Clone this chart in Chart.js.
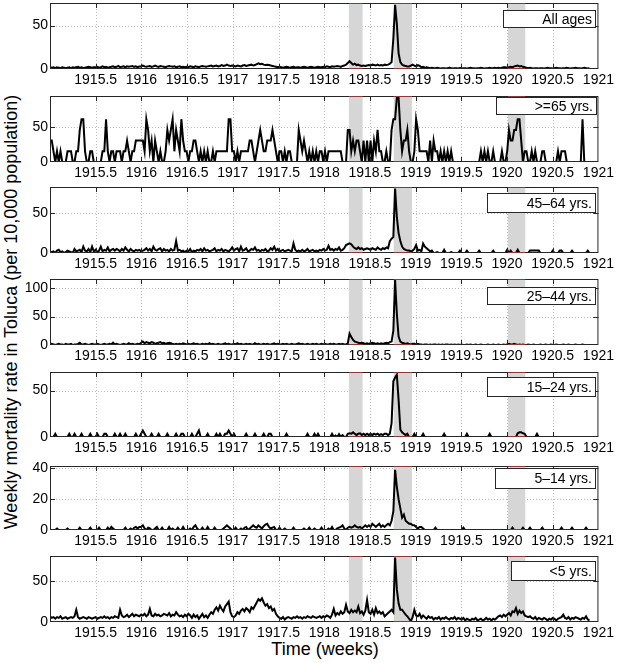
<!DOCTYPE html>
<html>
<head>
<meta charset="utf-8">
<script src="https://cdn.jsdelivr.net/npm/chart.js@4.4.1/dist/chart.umd.min.js"></script>
<style>
html,body{margin:0;padding:0;background:#fff;}
#wrap{position:relative;width:617px;height:663px;overflow:hidden;font-family:"Liberation Sans",Arial,Helvetica,sans-serif;color:#000;}
#wrap canvas{position:absolute;left:0;}
.ytitle{position:absolute;left:11px;top:312px;transform:translate(-50%,-50%) rotate(-90deg);font-size:18px;white-space:nowrap;}
.xtitle{position:absolute;left:325px;top:649px;transform:translate(-50%,-50%);font-size:18px;white-space:nowrap;}
</style>
</head>
<body>
<div id="wrap">
  <div class="ytitle">Weekly mortality rate in Toluca (per 10,000 population)</div>
  <div class="xtitle">Time (weeks)</div>
</div>
<script>
// ---------------- data ----------------
const startYear = 1915;
const weeksPerYear = 52.18;
const xTicks = [1915, 1915.5, 1916, 1916.5, 1917, 1917.5, 1918, 1918.5, 1919, 1919.5, 1920, 1920.5, 1921];
const xTickLabels = ['', '1915.5', '1916', '1916.5', '1917', '1917.5', '1918', '1918.5', '1919', '1919.5', '1920', '1920.5', '1921'];
const shadeStart = [1918.27, 1918.76, 1920.01];
const shadeEnd = [1918.42, 1918.96, 1920.20];
const panelLabels = ['All ages', '>=65 yrs.', '45\u201364 yrs.', '25\u201344 yrs.', '15\u201324 yrs.', '5\u201314 yrs.', '<5 yrs.'];
const yTicks = [[0, 50], [0, 50], [0, 50], [0, 50, 100], [0, 50], [0, 20, 40], [0, 50]];
const yMax = [76, 95, 83, 116, 70, 41.5, 81];

const allAges = [
2,1.5,2,1,2,1.5,1,2,1.5,1,1.5,2,1,2,1.5,2,2.5,1.5,2,1,1.5,2,2.5,2,1.5,2,
2,2.5,1.5,2,3,2,2.5,1.5,2,2.5,3,2,2.5,3.5,2,2.5,3,2,3,2.5,3,3.5,2.5,3,2,3,
3,4,3,2.5,3,3.5,2.5,3,4,3,2.5,3.5,3,2.5,2,3,3.5,3,2.5,3,2,2.5,3,2,2.5,2,
2.5,2,3,2.5,2,3,2.5,2,3,3.5,3,2.5,3,3.5,4,3,3.5,4,3,3.5,4.5,3.5,4,5,4,3.5,
4,3.5,3,4,3.5,3,4,4.5,3.5,4,4.5,5,4,4.5,5.5,6.5,5.5,6,5,4.5,5,4.5,4,3.5,3,2.5,
2,2.5,2,1.5,2,2.5,2,1.5,2,2.5,1.5,2,2,1.5,2,2.5,2,1.5,2,2.5,2,1.5,2,2.5,2,2,
2.5,2,3,2.5,2,3,2.5,3,3.5,3,2.5,3.5,4,5,7,9,7,5,6,4.5,5,4,3.5,4,3.5,4,
4.5,4,5,4.5,4,5,4,4.5,4,5,4.5,5,6,8,35,74,52,18,8,5,4,3.5,3,3,4,5,
4,3,4.5,3.5,2,2.5,1.5,2,1.5,1,1.5,1,1,1.5,1,0.5,1,1,0.5,1,1.5,1,0.5,1,1,0.5,
1,0.5,1,1,0.5,1,1.5,1,1,0.5,1,1,1.5,1,0.5,1,1,1.5,1,1,1.5,1,1.5,1,1.5,2,
2,1.5,2,2.5,2,3,3.5,4,3,3.5,2.5,2,1.5,1,1.5,1,0.5,1,1,0.5,1,1,0.5,1,1.5,1,
1,0.5,1,1.5,1,1,0.5,1,1,1.5,1,0.5,1,1,1.5,1,1,0.5,1,1.5,1,0.5,1
];
const age65plus = [
30.8,30.8,15.4,0,15.4,0,15.4,0,0,0,15.4,15.4,15.4,0,0,15.4,15.4,46.2,61.6,61.6,15.4,0,0,15.4,15.4,0,
0,0,0,0,15.4,15.4,61.6,15.4,0,15.4,15.4,0,15.4,15.4,15.4,0,15.4,15.4,30.8,15.4,0,15.4,15.4,30.8,30.8,30.8,
30.8,30.8,15.4,61.6,46.2,15.4,30.8,0,30.8,15.4,0,15.4,0,0,15.4,46.2,30.8,46.2,61.6,15.4,46.2,30.8,15.4,61.6,30.8,15.4,
15.4,0,15.4,15.4,30.8,30.8,15.4,0,15.4,0,15.4,0,15.4,0,0,15.4,0,15.4,15.4,15.4,15.4,15.4,15.4,15.4,61.6,61.6,
15.4,15.4,0,15.4,0,15.4,15.4,15.4,15.4,15.4,30.8,30.8,15.4,0,15.4,30.8,46.2,30.8,15.4,15.4,30.8,30.8,30.8,46.2,30.8,15.4,
0,15.4,15.4,0,15.4,0,15.4,15.4,0,0,0,0,46.2,30.8,15.4,30.8,15.4,0,15.4,0,15.4,0,15.4,0,15.4,15.4,
0,15.4,0,15.4,15.4,15.4,15.4,15.4,15.4,15.4,15.4,0,0,0,46.2,46.2,15.4,30.8,15.4,30.8,30.8,15.4,0,30.8,0,30.8,
0,30.8,0,30.8,15.4,46.2,15.4,15.4,0,0,15.4,0,0,46.2,61.6,61.6,92.4,92.4,46.2,15.4,30.8,30.8,46.2,15.4,0,0,
15.4,61.6,46.2,15.4,15.4,15.4,15.4,15.4,0,30.8,0,30.8,15.4,15.4,0,15.4,0,15.4,0,15.4,0,15.4,0,0,0,0,
0,0,0,0,0,0,0,0,0,0,0,0,15.4,0,15.4,0,15.4,0,0,15.4,0,0,0,0,15.4,0,
0,15.4,46.2,30.8,30.8,46.2,46.2,61.6,61.6,30.8,0,15.4,15.4,0,0,15.4,0,15.4,0,0,0,15.4,15.4,0,0,0,
0,0,0,0,15.4,0,15.4,15.4,15.4,0,0,0,0,0,0,0,0,0,61.6,0,0,0,0
];
const age45to64 = [
2,1,2,0,3,4,1,2,0,1,3,2,1,0,5,2,3,4,1,8,3,2,5,1,8,2,
4,1,3,8,2,4,3,7,2,4,5,3,5,4,2,5,3,7,4,2,5,3,2,4,3,4,
2,3,4,6,3,5,2,8,4,3,5,6,2,5,3,4,2,5,3,4,15,3,4,2,3,1,
3,2,5,1,3,2,4,3,5,2,6,3,4,2,3,4,6,2,4,3,5,2,4,3,2,4,
7,3,5,6,2,8,3,4,6,2,3,5,4,7,3,4,2,4,3,5,2,3,6,4,8,3,
5,2,3,4,2,3,4,3,2,12,4,2,3,2,4,2,3,5,2,3,4,2,3,2,4,3,
5,3,4,9,4,5,3,5,4,7,3,4,6,10,11,12,11,8,6,5,7,5,6,4,5,6,
5,4,6,5,4,7,5,4,6,5,7,6,15,18,20,81,45,25,15,8,5,4,3,3,2,3,
5,10,3,4,2,12,8,6,4,2,3,0,0,1,0,0,0,4,0,0,0,1,0,0,0,0,
3,0,0,0,3,0,0,0,0,0,0,3,0,0,0,0,0,0,0,3,0,0,0,0,0,0,
0,4,0,3,0,0,0,4,0,0,0,0,0,0,3,3,3,3,3,3,0,0,0,0,0,0,
0,3,0,0,0,3,3,0,0,0,0,0,3,0,0,0,0,0,0,0,0,3,0
];
const age25to44 = [
1,2,1,0,1,2,1,1,0,2,1,1,2,0,1,1,2,4,1,1,2,1,0,1,2,1,
1,2,1,0,1,2,1,1,2,1,4,1,2,1,0,1,2,1,1,3,1,2,1,1,2,1,
4,6,3,5,4,3,5,4,2,3,4,5,3,4,2,3,4,3,2,1,2,1,2,1,3,2,
1,2,1,2,3,1,2,1,1,2,1,2,1,3,1,2,1,1,2,1,1,2,3,1,2,1,
1,2,1,3,1,2,1,1,2,1,2,1,1,3,1,2,1,1,2,1,2,1,1,2,3,1,
2,1,1,2,1,2,1,1,2,1,1,2,3,1,2,1,1,2,1,1,2,1,2,1,1,2,
1,2,1,1,2,1,2,1,1,2,1,2,1,1,3,20,14,9,6,5,4,3,4,3,2,3,
2,3,4,3,2,3,2,3,2,3,4,3,5,6,25,114,55,15,6,4,3,2,3,2,1,2,
2,1,2,1,1,0,1,1,0,1,0,1,1,0,1,0,1,0,1,1,0,1,0,1,0,1,
0,1,0,0,1,0,1,0,0,1,0,0,1,0,0,0,1,0,0,1,0,0,1,0,0,1,
0,1,2,1,1,2,1,0,1,0,1,0,0,1,0,0,1,0,0,0,1,0,0,1,0,0,
1,0,0,1,0,0,0,1,0,0,1,0,0,0,1,0,0,0,1,0,0,0,0
];
const age15to24 = [
0,0,0,3.5,0,0,0,0,0,0,0,3.5,0,0,3.5,0,0,0,3.5,0,0,0,0,3.5,0,0,
0,3.5,0,0,0,3.5,3.5,0,0,0,0,3.5,0,0,3.5,0,0,3.5,0,0,0,0,0,3.5,0,0,
3.5,7,3.5,0,0,0,3.5,0,0,0,3.5,0,0,0,0,3.5,0,0,0,0,3.5,0,0,3.5,3.5,0,
0,0,0,3.5,0,0,3.5,7,0,0,0,0,3.5,0,0,0,0,3.5,0,3.5,0,0,3.5,3.5,7,3.5,
0,3.5,0,0,0,0,0,0,3.5,0,0,0,0,3.5,0,0,0,0,3.5,0,0,3.5,3.5,0,0,0,
0,0,0,0,0,3.5,0,0,0,0,0,0,0,0,0,0,0,3.5,0,0,0,3.5,0,3.5,0,0,
0,0,0,0,0,3.5,0,1.5,0,3,0,2,0,0,3.5,4,3.5,5,3.5,2,3.5,4,2,3.5,2,3.5,
2,3.5,2,3.5,2.5,3.5,2,3,2,3.5,3.5,2,3.5,15,60,64,67,40,8,5,3.5,2,3.5,0,0,0,
3.5,0,0,0,0,3.5,0,0,0,0,0,0,0,0,0,0,0,3.5,0,0,0,0,0,0,0,0,
0,0,0,0,3.5,0,0,0,0,0,0,0,0,0,0,0,0,3.5,0,0,0,0,0,0,0,0,
0,0,0,0,0,0,0,4,5,5,4,3.5,0,0,0,0,0,0,3.5,0,0,0,0,0,0,0,
0,0,0,0,0,0,0,0,0,0,0,0,0,0,0,0,0,0,0,0,0,0,0
];
const age5to14 = [
0,0,0,0,1,0,0,0,0,0,1,0,0,0,0,0,0,1.5,0,0,0,0,0,1.5,0,0,
0,0,1.5,0,0,0,0,1.5,0,2,1,0,0,0,0,0,0,1.5,0,0,1,0,1.5,2,1,2,
2,3,1,0,1.5,1,0,0,1,2,0,0,1.5,0,0,0,2,0,1,0,0,1.5,0,0,2,0,
0,0,1,0,2,3,1,0,0,1.5,0,0,2,0,0,0,1.5,0,0,0,0,1,2,3,2,1,
0,0,1.5,0,0,1,0,1.5,2,0,1,2,3,2,1.5,3,2,1,2.5,3.5,4,2,1,1.5,2,0,
0,1.5,0,0,1,0,0,0,0,1.5,0,0,0,0,0,1,0,0,1.5,0,0,1,0,0,0,1.5,
0,0,0,1,0,2,0,0,1,1.5,2,3,1,0,1.5,2,1.5,2,3,2,1.5,2,1,2,3,2,
3,2,4,3,2,3,4,2,3,2,3,4,3,6,12,39,28,20,14,8,10,6,5,4,4,3,
3,2,1,2,2,1,0,0,0,0,0,0,1.5,0,0,0,0,0,0,0,0,0,0,0,0,0,
0,0,1.5,0,0,0,0,0,0,0,0,0,0,0,0,0,0,0,0,0,0,0,0,0,0,0,
0,0,0,0,1.5,0,0,0,0,0,1.5,0,0,0,1.5,0,0,0,0,0,0,1.5,0,0,0,0,
0,0,0,0,0,0,1.5,0,0,0,0,0,1.5,0,0,0,0,0,0,0,1.5,0,0
];
const ageUnder5 = [
7,5,6,4,6,5,7,4,5,6,4,5,6,5,7,15,6,4,5,6,5,4,6,5,4,5,
6,4,5,6,5,7,5,6,4,6,5,7,6,5,15,8,6,7,9,6,8,10,7,9,8,7,
9,8,10,7,9,16,8,7,10,8,9,7,8,10,9,8,11,7,9,8,12,9,7,8,6,9,
7,10,8,5,9,6,8,4,7,10,6,8,5,9,12,10,15,18,14,20,16,13,19,22,25,12,
7,6,8,12,10,14,16,13,17,15,12,18,16,20,24,28,26,29,24,20,22,17,19,14,16,10,
7,5,4,6,3,5,6,5,4,6,5,7,5,6,4,6,5,7,6,5,7,6,5,6,7,5,
7,6,8,7,5,9,16,8,11,9,13,10,12,21,13,11,15,12,14,12,19,11,13,9,14,27,
12,10,15,9,17,11,13,10,12,7,9,11,13,15,12,79,40,23,15,15,12,9,7,4,1,6,
15,8,7,10,5,8,6,4,7,5,6,3,5,4,6,3,5,4,6,4,3,5,4,6,3,5,
4,3,5,2,4,3,2,4,3,5,2,3,4,2,3,5,3,4,2,4,3,5,7,8,6,9,
7,9,11,8,13,12,17,10,14,11,13,8,7,6,7,5,4,6,3,5,4,3,5,4,2,4,
3,5,4,2,4,5,6,9,5,4,6,3,5,4,6,5,4,3,5,4,7,3,2
];
const series = [allAges, age65plus, age45to64, age25to44, age15to24, age5to14, ageUnder5];

// ---------------- layout ----------------
const FONT = '"Liberation Sans", Arial, Helvetica, sans-serif';
const panelTop = [3, 96, 187, 279, 372, 466, 556];
const panelH = [66, 66, 66, 66, 65, 64, 66];
const PAD_TOP = 12, X_AXIS_H = 22, Y_AXIS_W = 50, PAD_RIGHT = 17;
const boxes = [
  {x: 503, dy: 7, w: 93, h: 18},
  {x: 496, dy: 1, w: 101, h: 18},
  {x: 487, dy: 6, w: 109, h: 20},
  {x: 487, dy: 8, w: 109, h: 18},
  {x: 487, dy: 5, w: 109, h: 20},
  {x: 495, dy: 2, w: 101, h: 21},
  {x: 511, dy: 5, w: 85, h: 20}
];
const AXIS_COLOR = '#262626';

const deco = {
  id: 'deco',
  beforeDatasetsDraw(chart, args, o) {
    const ctx = chart.ctx, a = chart.chartArea, x = chart.scales.x, y = chart.scales.y;
    ctx.save();
    // dotted grid
    ctx.strokeStyle = '#bcbcbc';
    ctx.lineWidth = 1;
    ctx.setLineDash([1, 2]);
    ctx.beginPath();
    xTicks.forEach(v => {
      const px = Math.round(x.getPixelForValue(v)) + 0.5;
      if (px <= a.left + 1 || px >= a.right - 1) return;
      ctx.moveTo(px, a.top); ctx.lineTo(px, a.bottom);
    });
    o.yt.forEach(v => {
      const py = Math.round(y.getPixelForValue(v)) + 0.5;
      if (py <= a.top + 1 || py >= a.bottom - 1) return;
      ctx.moveTo(a.left, py); ctx.lineTo(a.right, py);
    });
    ctx.stroke();
    ctx.setLineDash([]);
    // shaded periods
    ctx.fillStyle = '#d6d6d6';
    for (let j = 0; j < shadeStart.length; j++) {
      const x0 = x.getPixelForValue(shadeStart[j]), x1 = x.getPixelForValue(shadeEnd[j]);
      ctx.fillRect(x0, a.top, x1 - x0, a.bottom - a.top);
    }
    ctx.restore();
  },
  afterDatasetsDraw(chart, args, o) {
    const ctx = chart.ctx, a = chart.chartArea, x = chart.scales.x, y = chart.scales.y;
    ctx.save();
    ctx.strokeStyle = AXIS_COLOR;
    ctx.lineWidth = 1;
    ctx.strokeRect(a.left + 0.5, a.top + 0.5, a.right - a.left - 1, a.bottom - a.top - 1);
    // faint red marks on the frame over the shaded periods
    ctx.strokeStyle = 'rgba(225,70,70,0.55)';
    ctx.beginPath();
    for (let j = 0; j < shadeStart.length; j++) {
      const x0 = x.getPixelForValue(shadeStart[j]), x1 = x.getPixelForValue(shadeEnd[j]);
      ctx.moveTo(x0, a.top + 0.5); ctx.lineTo(x1, a.top + 0.5);
      ctx.moveTo(x0, a.bottom - 0.5); ctx.lineTo(x1, a.bottom - 0.5);
    }
    ctx.stroke();
    // inward tick marks
    ctx.strokeStyle = AXIS_COLOR;
    ctx.beginPath();
    xTicks.forEach(v => {
      const px = Math.round(x.getPixelForValue(v)) + 0.5;
      if (px <= a.left + 1 || px >= a.right - 1) return;
      ctx.moveTo(px, a.bottom); ctx.lineTo(px, a.bottom - 5);
      ctx.moveTo(px, a.top); ctx.lineTo(px, a.top + 5);
    });
    o.yt.forEach(v => {
      const py = Math.round(y.getPixelForValue(v)) + 0.5;
      if (py <= a.top + 1 || py >= a.bottom - 1) return;
      ctx.moveTo(a.left, py); ctx.lineTo(a.left + 5, py);
      ctx.moveTo(a.right, py); ctx.lineTo(a.right - 5, py);
    });
    ctx.stroke();
    // label box
    const b = o.box, by = a.top + b.dy;
    ctx.fillStyle = '#fff';
    ctx.fillRect(b.x, by, b.w, b.h);
    ctx.strokeStyle = AXIS_COLOR;
    ctx.strokeRect(b.x + 0.5, by + 0.5, b.w - 1, b.h - 1);
    ctx.fillStyle = '#000';
    ctx.font = '14px ' + FONT;
    ctx.textAlign = 'right';
    ctx.textBaseline = 'middle';
    ctx.fillText(o.label, b.x + b.w - 4, by + b.h / 2 + 1);
    ctx.restore();
  }
};

const wrap = document.getElementById('wrap');
series.forEach((vals, i) => {
  const cv = document.createElement('canvas');
  const H = PAD_TOP + panelH[i] + X_AXIS_H;
  cv.width = 617; cv.height = H;
  cv.style.width = '617px'; cv.style.height = H + 'px';
  cv.style.top = (panelTop[i] - PAD_TOP) + 'px';
  wrap.appendChild(cv);
  const pts = vals.map((v, k) => ({x: startYear + k / weeksPerYear, y: v}));
  new Chart(cv, {
    type: 'line',
    data: {datasets: [{data: pts, borderColor: '#000', borderWidth: 2, pointRadius: 0, tension: 0, fill: false}]},
    options: {
      responsive: false,
      animation: false,
      devicePixelRatio: 1,
      parsing: false,
      layout: {padding: {top: PAD_TOP, right: PAD_RIGHT, left: 0, bottom: 0}},
      plugins: {
        legend: {display: false},
        tooltip: {enabled: false},
        deco: {yt: yTicks[i], box: boxes[i], label: panelLabels[i]}
      },
      scales: {
        x: {
          type: 'linear', min: 1915, max: 1921,
          afterBuildTicks: s => { s.ticks = xTicks.map(v => ({value: v})); },
          afterFit: s => { s.height = X_AXIS_H; },
          grid: {display: false, drawTicks: false},
          border: {display: false},
          ticks: {autoSkip: false, maxRotation: 0, minRotation: 0, padding: 3, color: '#000',
                  font: {size: 14, family: FONT},
                  callback: (v, idx) => xTickLabels[idx]}
        },
        y: {
          type: 'linear', min: 0, max: yMax[i],
          afterBuildTicks: s => { s.ticks = yTicks[i].map(v => ({value: v})); },
          afterFit: s => { s.width = Y_AXIS_W; },
          grid: {display: false, drawTicks: false},
          border: {display: false},
          ticks: {padding: 2, color: '#000', font: {size: 14, family: FONT},
                  callback: v => String(v)}
        }
      }
    },
    plugins: [deco]
  });
});
</script>
</body>
</html>
